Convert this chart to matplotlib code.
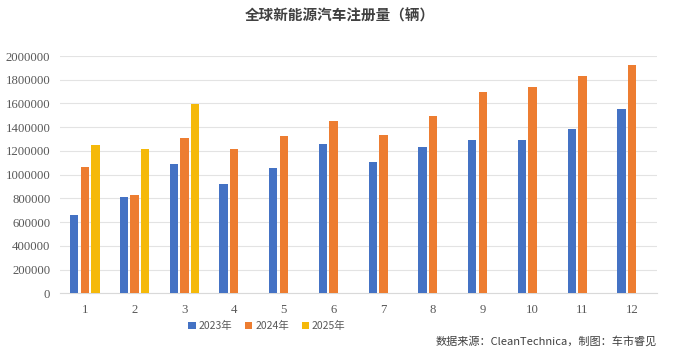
import numpy as np
import matplotlib.pyplot as plt

plt.rcParams['font.family'] = ['Noto Sans CJK SC', 'DejaVu Sans']

months = ['1', '2', '3', '4', '5', '6', '7', '8', '9', '10', '11', '12']
sales_2023 = [660000, 812000, 1090000, 924000, 1054000, 1256000,
              1104000, 1234000, 1290000, 1290000, 1385000, 1554000]
sales_2024 = [1065000, 829000, 1310000, 1217000, 1324000, 1453000,
              1337000, 1495000, 1697000, 1737000, 1832000, 1928000]
sales_2025 = [1248000, 1217000, 1599000]

series = [('2023年', sales_2023, '#4472C4'),
          ('2024年', sales_2024, '#ED7D31'),
          ('2025年', sales_2025, '#F5B90A')]

fig = plt.figure(figsize=(6.8, 3.62), dpi=100)
ax = fig.add_axes([60 / 680, 1 - 293.3 / 362, 597 / 680, (293.3 - 56) / 362])

x = np.arange(len(months))
width = 0.167
step = 0.215
for i, (name, vals, color) in enumerate(series):
    xs = x[:len(vals)] + (i - 1) * step
    ax.bar(xs, vals, width=width, color=color, label=name, zorder=3)

ax.set_xlim(-0.5, len(months) - 0.5)
ax.set_ylim(0, 2000000)
ax.set_yticks(np.arange(0, 2000001, 200000))
ax.set_yticklabels([str(v) for v in range(0, 2000001, 200000)],
                   family='Liberation Serif', fontsize=9.2, color='#595959')
ax.set_xticks(x)
ax.set_xticklabels(months, family='Liberation Serif', fontsize=9.2, color='#595959')
ax.tick_params(length=0, pad=7)
ax.tick_params(axis='x', pad=8)
ax.grid(axis='y', color='#E3E3E3', linewidth=0.8, zorder=0)
for s in ['top', 'right', 'left']:
    ax.spines[s].set_visible(False)
ax.spines['bottom'].set_color('#D9D9D9')

fig.text(0.5, 1 - 16 / 362, '全球新能源汽车注册量（辆）', ha='center', va='center',
         fontsize=10.5, fontweight='bold', color='#404040')

fig.legend(loc='center', bbox_to_anchor=(267 / 680, 1 - 326 / 362), ncol=3,
           frameon=False, fontsize=7.5, handlelength=0.7, handleheight=0.7,
           handletextpad=0.3, columnspacing=1.2, labelcolor='#595959')

fig.text(657 / 680, 1 - 341 / 362, '数据来源：CleanTechnica，制图：车市睿见',
         ha='right', va='center', fontsize=8, color='#404040')

fig.savefig('out.png', dpi=100)
